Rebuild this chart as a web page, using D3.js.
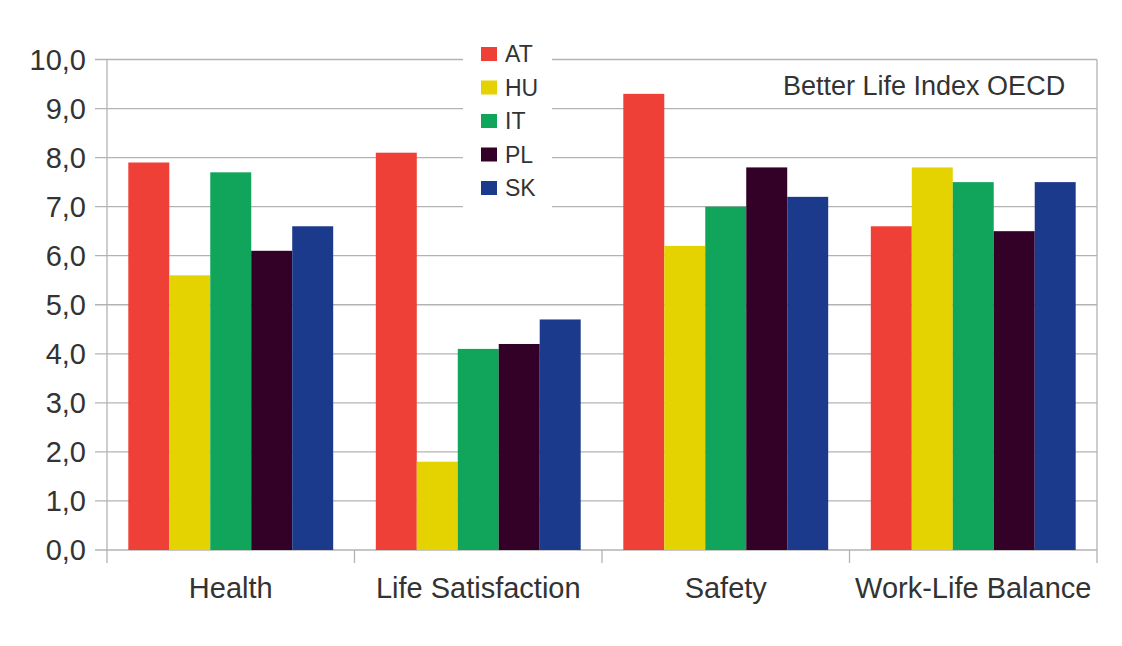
<!DOCTYPE html>
<html><head><meta charset="utf-8">
<script src="https://cdn.jsdelivr.net/npm/d3@7"></script>
<style>html,body{margin:0;padding:0;background:#fff;}svg{display:block;font-family:"Liberation Sans",Arial,sans-serif;}</style>
</head><body><svg id="c" width="1122" height="646"></svg>
<script>
const categories = ["Health", "Life Satisfaction", "Safety", "Work-Life Balance"];
const seriesNames = ["AT", "HU", "IT", "PL", "SK"];
const AT = [7.9, 8.1, 9.3, 6.6];
const HU = [5.6, 1.8, 6.2, 7.8];
const IT = [7.7, 4.1, 7.0, 7.5];
const PL = [6.1, 4.2, 7.8, 6.5];
const SK = [6.6, 4.7, 7.2, 7.5];
const yTicks = [0,1,2,3,4,5,6,7,8,9,10];
const title = "Better Life Index OECD";
const colors = ["#ee4036", "#e4d300", "#11a55b", "#330028", "#1c3a8b"];

const seriesValues = [AT, HU, IT, PL, SK];
const svg = d3.select("#c");
const mLeft = 107, mRight = 1097, mTop = 59.5, mBottom = 550;
const x = d3.scaleBand().domain(categories).range([mLeft, mRight]).paddingInner(0).paddingOuter(0);
const x1 = d3.scaleBand().domain(seriesNames).range([0, x.bandwidth()]).paddingInner(0).paddingOuter(0.52);
const y = d3.scaleLinear().domain([0, 10]).range([mBottom, mTop]);
const fmt = d => d3.format(".1f")(d).replace(".", ",");
const textCol = "#333";
const gridCol = "#b3b3b3";

// gridlines
svg.append("g").selectAll("line").data(yTicks).join("line")
  .attr("x1", 95).attr("x2", mRight)
  .attr("y1", d => y(d)).attr("y2", d => y(d))
  .attr("stroke", gridCol).attr("stroke-width", 1.3);

// vertical frame lines
svg.append("line").attr("x1", mLeft).attr("x2", mLeft).attr("y1", mTop).attr("y2", mBottom + 13).attr("stroke", gridCol).attr("stroke-width", 1.3);
svg.append("line").attr("x1", mRight).attr("x2", mRight).attr("y1", mTop).attr("y2", mBottom + 13).attr("stroke", gridCol).attr("stroke-width", 1.3);
// category boundary ticks
svg.append("g").selectAll("line").data(categories.slice(1)).join("line")
  .attr("x1", d => x(d)).attr("x2", d => x(d))
  .attr("y1", mBottom).attr("y2", mBottom + 13)
  .attr("stroke", gridCol).attr("stroke-width", 1.3);

// y labels
svg.append("g").selectAll("text").data(yTicks).join("text")
  .attr("x", 86).attr("y", d => y(d)).attr("dy", "0.36em")
  .attr("text-anchor", "end").attr("font-size", 29).attr("fill", textCol)
  .text(fmt);

// bars
const g = svg.append("g");
seriesNames.forEach((s, i) => {
  g.append("g").selectAll("rect").data(seriesValues[i]).join("rect")
    .attr("x", (d, j) => x(categories[j]) + x1(s))
    .attr("width", x1.bandwidth())
    .attr("y", d => y(d))
    .attr("height", d => y(0) - y(d))
    .attr("fill", colors[i]);
});

// category labels
svg.append("g").selectAll("text").data(categories).join("text")
  .attr("x", d => x(d) + x.bandwidth() / 2).attr("y", 598)
  .attr("text-anchor", "middle").attr("font-size", 29).attr("fill", textCol)
  .text(d => d);

// legend
const lg = svg.append("g");
lg.append("rect").attr("x", 463).attr("y", 36).attr("width", 89).attr("height", 178).attr("fill", "#fff");
seriesNames.forEach((s, i) => {
  const cy = 54 + i * 33.5;
  lg.append("rect").attr("x", 481).attr("y", cy - 7).attr("width", 16).attr("height", 14).attr("fill", colors[i]);
  lg.append("text").attr("x", 505).attr("y", cy).attr("dy", "0.36em")
    .attr("font-size", 23).attr("fill", textCol).text(s);
});

// title
svg.append("text").attr("x", 783).attr("y", 95).attr("font-size", 27).attr("fill", textCol).text(title);
</script></body></html>
